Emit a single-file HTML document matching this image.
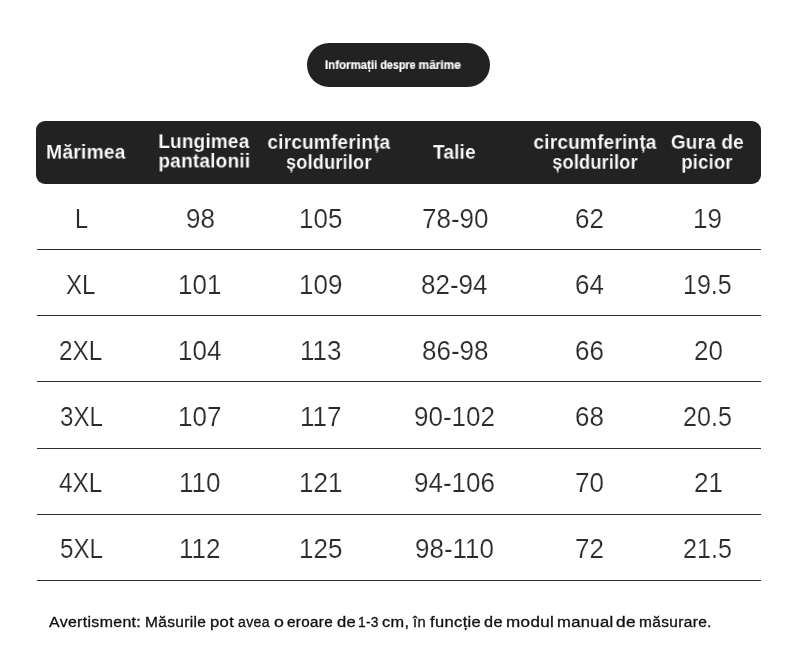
<!DOCTYPE html>
<html lang="ro"><head><meta charset="utf-8"><title>Informații despre mărime</title>
<style>
html,body{margin:0;padding:0;background:#fff;}
body{width:790px;height:665px;position:relative;overflow:hidden;font-family:"Liberation Sans",sans-serif;}
#w{position:absolute;left:0;top:0;width:790px;height:665px;will-change:transform;}
.t{position:absolute;white-space:nowrap;line-height:1;transform-origin:0 0;}
.h{color:#fff;font-weight:bold;-webkit-text-stroke:0.15px #222;}
.p{-webkit-text-stroke:0.18px #fff;}
.d{color:#2b2b2b;font-weight:normal;-webkit-text-stroke:0.2px #fff;}
.pill{position:absolute;left:307px;top:43px;width:183px;height:44px;border-radius:22px;background:#222222;}
.bar{position:absolute;left:36px;top:121px;width:725px;height:63px;border-radius:9px;background:#222222;}
.ln{position:absolute;left:37px;width:724px;height:1px;background:#2e2e2e;}
.f{color:#111;font-weight:normal;-webkit-text-stroke:0.3px #111;}
</style></head><body><div id="w">
<div class="pill"></div>
<div class="bar"></div>
<div class="ln" style="top:249px"></div>
<div class="ln" style="top:315px"></div>
<div class="ln" style="top:381px"></div>
<div class="ln" style="top:448px"></div>
<div class="ln" style="top:514px"></div>
<div class="ln" style="top:580px"></div>
<span class="t h p" style="left:324px;top:59px;font-size:12px;will-change:transform;transform:translate(0.99px,0.33px) rotate(0.001deg) scale(0.9576,0.9670);">Informații</span>
<span class="t h p" style="left:380px;top:59px;font-size:12px;will-change:transform;transform:translate(0.40px,0.33px) rotate(0.001deg) scale(0.8923,0.9670);">despre</span>
<span class="t h p" style="left:418px;top:59px;font-size:12px;will-change:transform;transform:translate(0.54px,0.33px) rotate(0.001deg) scale(0.9934,0.9670);">mărime</span>
<span class="t h" style="left:46px;top:143px;font-size:19.5px;letter-spacing:0.2px;will-change:transform;transform:translate(0.11px,0.05px) rotate(0.001deg) scale(0.9872,0.9720);">Mărimea</span>
<span class="t h" style="left:158px;top:132px;font-size:19.5px;letter-spacing:0.2px;will-change:transform;transform:translate(0.33px,0.45px) rotate(0.001deg) scale(0.9720,0.9720);">Lungimea</span>
<span class="t h" style="left:158px;top:151px;font-size:19.5px;letter-spacing:0.2px;will-change:transform;transform:translate(0.42px,0.95px) rotate(0.001deg) scale(0.9772,0.9720);">pantalonii</span>
<span class="t h" style="left:267px;top:133px;font-size:19.5px;letter-spacing:0.2px;will-change:transform;transform:translate(0.47px,0.25px) rotate(0.001deg) scale(0.9748,0.9720);">circumferința</span>
<span class="t h" style="left:286px;top:153px;font-size:19.5px;letter-spacing:0.2px;will-change:transform;transform:translate(0.02px,0.25px) rotate(0.001deg) scale(0.9303,0.9720);">șoldurilor</span>
<span class="t h" style="left:433px;top:143px;font-size:19.5px;letter-spacing:0.2px;will-change:transform;transform:translate(0.00px,0.15px) rotate(0.001deg) scale(0.9732,0.9720);">Talie</span>
<span class="t h" style="left:533px;top:133px;font-size:19.5px;letter-spacing:0.2px;will-change:transform;transform:translate(0.47px,0.25px) rotate(0.001deg) scale(0.9764,0.9720);">circumferința</span>
<span class="t h" style="left:552px;top:153px;font-size:19.5px;letter-spacing:0.2px;will-change:transform;transform:translate(0.32px,0.20px) rotate(0.001deg) scale(0.9292,0.9720);">șoldurilor</span>
<span class="t h" style="left:670px;top:133px;font-size:19.5px;letter-spacing:0.2px;will-change:transform;transform:translate(0.91px,0.20px) rotate(0.001deg) scale(0.9721,0.9720);">Gura de</span>
<span class="t h" style="left:681px;top:153px;font-size:19.5px;letter-spacing:0.2px;will-change:transform;transform:translate(0.35px,0.20px) rotate(0.001deg) scale(0.9453,0.9720);">picior</span>
<span class="t d" style="left:75.07px;top:206.00px;font-size:27px;transform:scaleX(0.8659);">L</span>
<span class="t d" style="left:185.75px;top:206.00px;font-size:27px;transform:scaleX(0.9630);">98</span>
<span class="t d" style="left:299.15px;top:206.00px;font-size:27px;transform:scaleX(0.9630);">105</span>
<span class="t d" style="left:421.58px;top:206.00px;font-size:27px;transform:scaleX(0.9630);">78-90</span>
<span class="t d" style="left:575.45px;top:206.00px;font-size:27px;transform:scaleX(0.9630);">62</span>
<span class="t d" style="left:693.17px;top:206.00px;font-size:27px;transform:scaleX(0.9630);">19</span>
<span class="t d" style="left:66.19px;top:272.00px;font-size:27px;transform:scaleX(0.8905);">XL</span>
<span class="t d" style="left:178.05px;top:272.00px;font-size:27px;transform:scaleX(0.9630);">101</span>
<span class="t d" style="left:299.15px;top:272.00px;font-size:27px;transform:scaleX(0.9630);">109</span>
<span class="t d" style="left:421.47px;top:272.00px;font-size:27px;transform:scaleX(0.9630);">82-94</span>
<span class="t d" style="left:575.35px;top:272.00px;font-size:27px;transform:scaleX(0.9630);">64</span>
<span class="t d" style="left:683.45px;top:272.00px;font-size:27px;transform:scaleX(0.9266);">19.5</span>
<span class="t d" style="left:59.20px;top:338.00px;font-size:27px;transform:scaleX(0.9041);">2XL</span>
<span class="t d" style="left:177.95px;top:338.00px;font-size:27px;transform:scaleX(0.9630);">104</span>
<span class="t d" style="left:300.11px;top:338.00px;font-size:27px;transform:scaleX(0.9630);">113</span>
<span class="t d" style="left:421.58px;top:338.00px;font-size:27px;transform:scaleX(0.9630);">86-98</span>
<span class="t d" style="left:575.45px;top:338.00px;font-size:27px;transform:scaleX(0.9630);">66</span>
<span class="t d" style="left:693.65px;top:338.00px;font-size:27px;transform:scaleX(0.9630);">20</span>
<span class="t d" style="left:59.71px;top:404.00px;font-size:27px;transform:scaleX(0.8932);">3XL</span>
<span class="t d" style="left:178.05px;top:404.00px;font-size:27px;transform:scaleX(0.9630);">107</span>
<span class="t d" style="left:300.11px;top:404.00px;font-size:27px;transform:scaleX(0.9630);">117</span>
<span class="t d" style="left:414.35px;top:404.00px;font-size:27px;transform:scaleX(0.9630);">90-102</span>
<span class="t d" style="left:575.45px;top:404.00px;font-size:27px;transform:scaleX(0.9630);">68</span>
<span class="t d" style="left:683.17px;top:404.00px;font-size:27px;transform:scaleX(0.9321);">20.5</span>
<span class="t d" style="left:59.23px;top:470.00px;font-size:27px;transform:scaleX(0.9033);">4XL</span>
<span class="t d" style="left:179.01px;top:470.00px;font-size:27px;transform:scaleX(0.9630);">110</span>
<span class="t d" style="left:299.15px;top:470.00px;font-size:27px;transform:scaleX(0.9630);">121</span>
<span class="t d" style="left:414.35px;top:470.00px;font-size:27px;transform:scaleX(0.9630);">94-106</span>
<span class="t d" style="left:575.45px;top:470.00px;font-size:27px;transform:scaleX(0.9630);">70</span>
<span class="t d" style="left:693.65px;top:470.00px;font-size:27px;transform:scaleX(0.9630);">21</span>
<span class="t d" style="left:59.60px;top:536.00px;font-size:27px;transform:scaleX(0.8954);">5XL</span>
<span class="t d" style="left:179.01px;top:536.00px;font-size:27px;transform:scaleX(0.9630);">112</span>
<span class="t d" style="left:299.15px;top:536.00px;font-size:27px;transform:scaleX(0.9630);">125</span>
<span class="t d" style="left:415.32px;top:536.00px;font-size:27px;transform:scaleX(0.9630);">98-110</span>
<span class="t d" style="left:575.45px;top:536.00px;font-size:27px;transform:scaleX(0.9630);">72</span>
<span class="t d" style="left:683.17px;top:536.00px;font-size:27px;transform:scaleX(0.9321);">21.5</span>
<span class="t f" style="left:49.40px;top:615.00px;font-size:14px;letter-spacing:0.3px;transform:scaleX(1.1350);">Avertisment:</span>
<span class="t f" style="left:144.99px;top:615.00px;font-size:14px;letter-spacing:0.3px;transform:scaleX(1.1072);">Măsurile</span>
<span class="t f" style="left:209.80px;top:615.00px;font-size:14px;letter-spacing:0.3px;transform:scaleX(1.1888);">pot</span>
<span class="t f" style="left:237.95px;top:615.00px;font-size:14px;letter-spacing:0.3px;transform:scaleX(1.0071);">avea</span>
<span class="t f" style="left:274.47px;top:615.00px;font-size:14px;letter-spacing:0.3px;transform:scaleX(1.2634);">o</span>
<span class="t f" style="left:287.49px;top:615.00px;font-size:14px;letter-spacing:0.3px;transform:scaleX(1.0879);">eroare</span>
<span class="t f" style="left:336.84px;top:615.00px;font-size:14px;letter-spacing:0.3px;transform:scaleX(1.1804);">de</span>
<span class="t f" style="left:358.31px;top:615.00px;font-size:14px;letter-spacing:0.3px;transform:scaleX(0.9850);">1-3</span>
<span class="t f" style="left:381.94px;top:615.00px;font-size:14px;letter-spacing:0.3px;transform:scaleX(1.1665);">cm,</span>
<span class="t f" style="left:412.78px;top:615.00px;font-size:14px;letter-spacing:0.3px;transform:scaleX(1.0532);">în</span>
<span class="t f" style="left:429.50px;top:615.00px;font-size:14px;letter-spacing:0.3px;transform:scaleX(1.1799);">funcție</span>
<span class="t f" style="left:483.85px;top:615.00px;font-size:14px;letter-spacing:0.3px;transform:scaleX(1.1597);">de</span>
<span class="t f" style="left:505.63px;top:615.00px;font-size:14px;letter-spacing:0.3px;transform:scaleX(1.2175);">modul</span>
<span class="t f" style="left:557.06px;top:615.00px;font-size:14px;letter-spacing:0.3px;transform:scaleX(1.1858);">manual</span>
<span class="t f" style="left:615.91px;top:615.00px;font-size:14px;letter-spacing:0.3px;transform:scaleX(1.2357);">de</span>
<span class="t f" style="left:638.74px;top:615.00px;font-size:14px;letter-spacing:0.3px;transform:scaleX(1.1070);">măsurare.</span>
</div></body></html>
